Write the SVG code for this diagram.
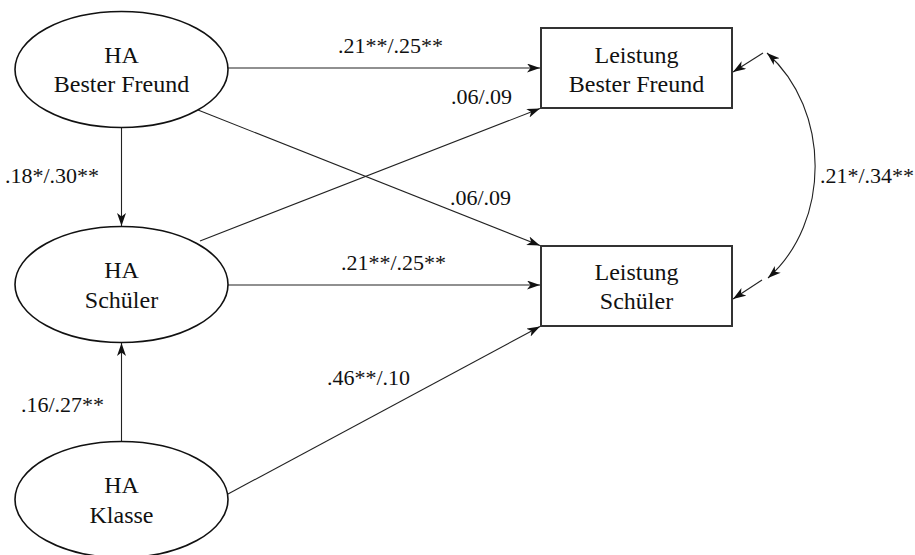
<svg xmlns="http://www.w3.org/2000/svg" width="915" height="555" viewBox="0 0 915 555">
<style>
.node-shape{fill:#fff;stroke:#111;stroke-width:1.6}
.box{fill:#fff;stroke:#333;stroke-width:2}
.nt{font-size:24px;fill:#111;text-anchor:middle}
.lbl{font-size:22px;fill:#111}
.edge{fill:none;stroke:#222;stroke-width:1.1}
.arr{marker-end:url(#ah)}
</style>
<defs>
<marker id="ah" markerUnits="userSpaceOnUse" markerWidth="14" markerHeight="10" refX="13" refY="4.5" orient="auto-start-reverse">
<path d="M0,0 L13,4.5 L0,9 L3.5,4.5 z" fill="#111"/>
</marker>
</defs>
<rect width="915" height="555" fill="#fff"/>
<g font-family="Liberation Serif, Times New Roman, serif">
<g id="connectors">
<line class="edge arr" x1="228" y1="68" x2="540" y2="68"/>
<line class="edge arr" x1="198" y1="110" x2="540" y2="245.5"/>
<line class="edge arr" x1="200" y1="241" x2="540" y2="108.5"/>
<line class="edge arr" x1="228" y1="285" x2="540" y2="285"/>
<line class="edge arr" x1="228" y1="494" x2="540" y2="326.5"/>
<line class="edge arr" x1="121.5" y1="127.5" x2="121.5" y2="226"/>
<line class="edge arr" x1="121.5" y1="441.5" x2="121.5" y2="343"/>
<line class="edge arr" x1="763" y1="53" x2="733" y2="72"/>
<line class="edge arr" x1="762" y1="280" x2="733" y2="299"/>
<path class="edge" d="M767,53 C831,110 831,222 768,278" marker-start="url(#ah)" marker-end="url(#ah)"/>
<text class="lbl" x="338" y="53">.21**/.25**</text>
<text class="lbl" x="451" y="104">.06/.09</text>
<text class="lbl" x="450" y="205">.06/.09</text>
<text class="lbl" x="341" y="270">.21**/.25**</text>
<text class="lbl" x="327" y="385">.46**/.10</text>
<text class="lbl" x="5" y="183">.18*/.30**</text>
<text class="lbl" x="21" y="412">.16/.27**</text>
<text class="lbl" x="820" y="183">.21*/.34**</text>
</g>
<g id="ha-bester-freund">
<ellipse class="node-shape" cx="121.5" cy="69.5" rx="106.5" ry="58"/>
<text class="nt" x="121.5" y="63">HA</text>
<text class="nt" x="121.5" y="92">Bester Freund</text>
</g>
<g id="ha-schueler">
<ellipse class="node-shape" cx="121.5" cy="284.5" rx="106.5" ry="58"/>
<text class="nt" x="121.5" y="278">HA</text>
<text class="nt" x="121.5" y="308">Schüler</text>
</g>
<g id="ha-klasse">
<ellipse class="node-shape" cx="121.5" cy="499.5" rx="106.5" ry="58"/>
<text class="nt" x="121.5" y="493">HA</text>
<text class="nt" x="121.5" y="523">Klasse</text>
</g>
<g id="leistung-bester-freund">
<rect class="box" x="541" y="28" width="191" height="80"/>
<text class="nt" x="636.5" y="63">Leistung</text>
<text class="nt" x="636.5" y="92">Bester Freund</text>
</g>
<g id="leistung-schueler">
<rect class="box" x="541" y="246" width="191" height="80"/>
<text class="nt" x="636.5" y="280">Leistung</text>
<text class="nt" x="636.5" y="309">Schüler</text>
</g>
</g>
</svg>
